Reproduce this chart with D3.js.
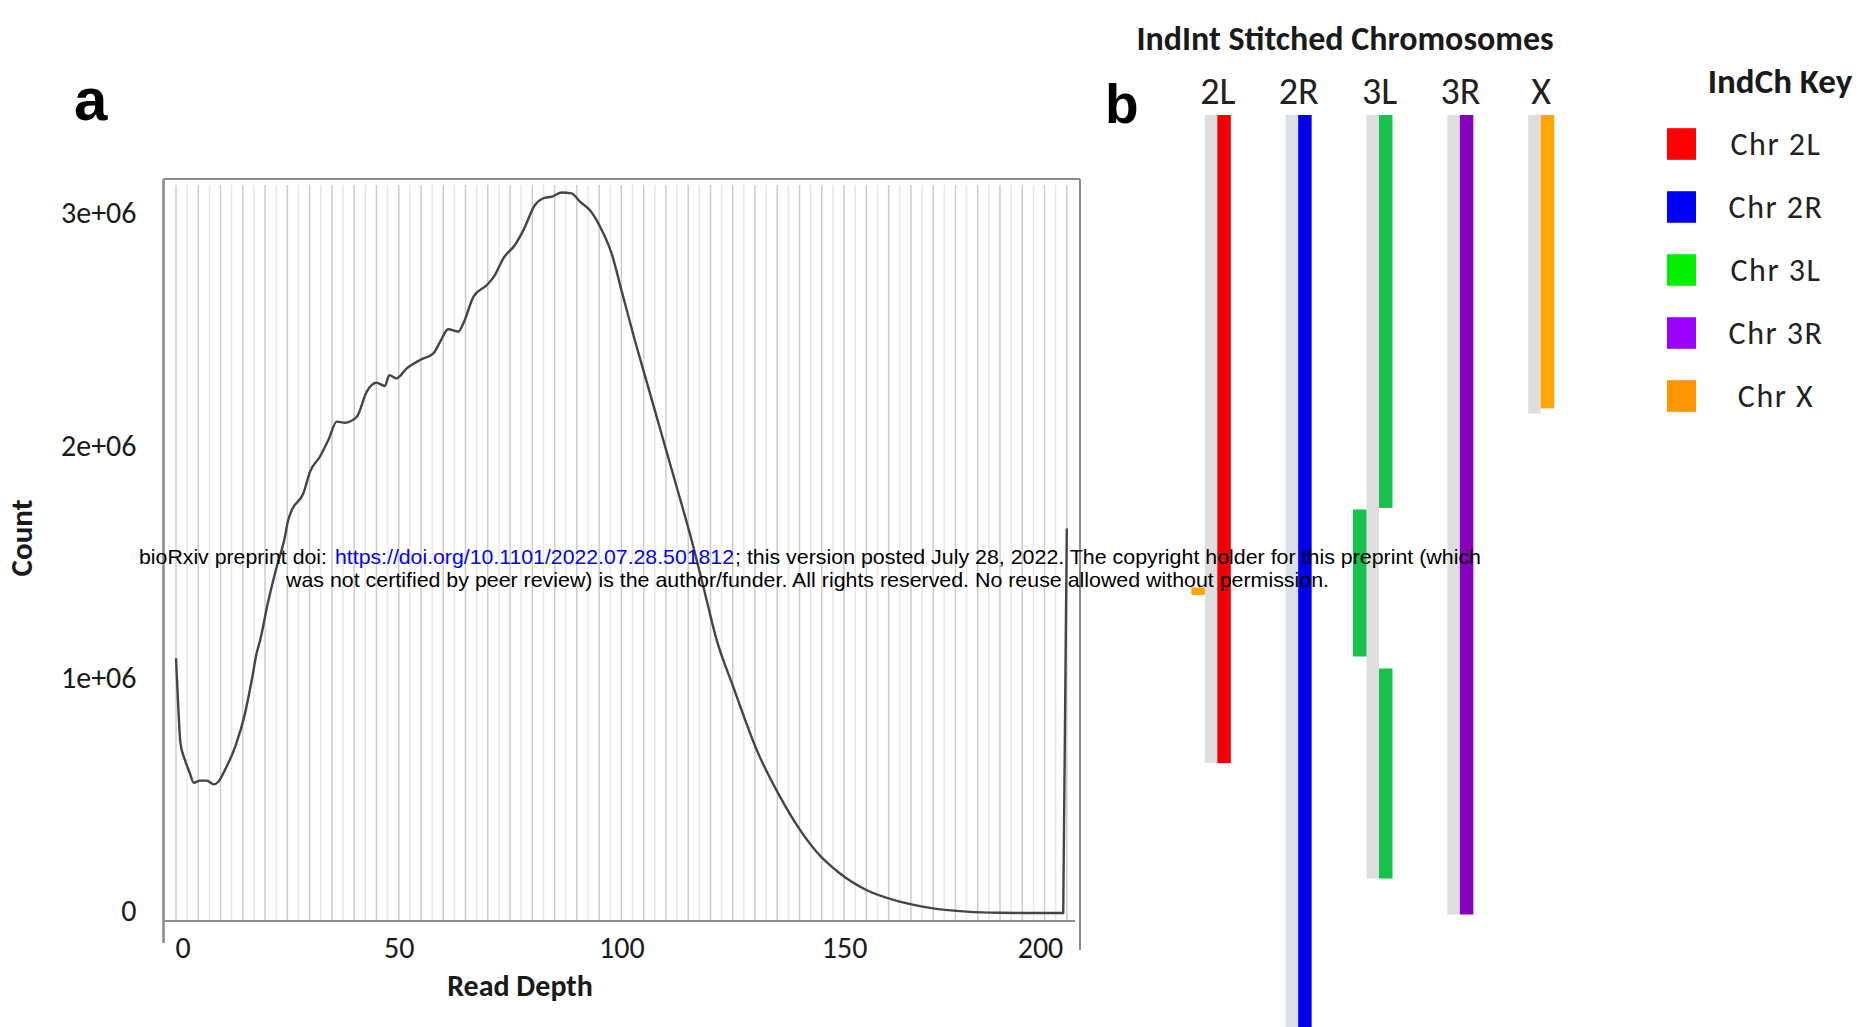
<!DOCTYPE html>
<html><head><meta charset="utf-8">
<script src="https://cdn.jsdelivr.net/npm/d3@7"></script>
<style>
html,body{margin:0;padding:0;background:#fff;}
svg{display:block;}
</style></head><body>
<svg id="chart" width="1867" height="1027"></svg>
<script>
// ---------------- Panel a data ----------------
const readDepth = [0,0.5,1,2,3,4,5.4,6.9,8.5,9.5,11,13.3,15.5,17,18.1,18.9,20.6,22.5,24.3,25.2,26,28.6,30.1,32.3,34.2,36.1,37.9,40.6,42.8,45,46.9,47.9,49.5,51.8,54.8,57.8,59.3,61.1,63.4,64.5,66.8,69.8,71.6,73.5,76.1,78,80.6,82.5,84.4,86.6,88.8,90.7,92.9,95.2,97.8,100.2,103,105.8,109,112.2,115.8,118.5,121.4,125.1,130.4,135.6,140.1,143.8,149,155,162.5,170,177.5,185,192,199.2,200];
const siteCount = [1095000,890000,730000,658000,607000,560000,569000,569000,553000,564000,615000,715000,858000,1000000,1116000,1173000,1330000,1480000,1603000,1689000,1732000,1804000,1897000,1961000,2033000,2112000,2107000,2133000,2240000,2279000,2265000,2312000,2298000,2341000,2377000,2405000,2455000,2509000,2499000,2534000,2649000,2699000,2742000,2814000,2871000,2935000,3043000,3072000,3079000,3097000,3093000,3057000,3021000,2950000,2835000,2663000,2463000,2275000,2060000,1845000,1600000,1395000,1173000,973000,700000,500000,357000,263000,171000,99000,49000,20000,6000,1000,0,0,1653000];
const xTickValues = [0,50,100,150,200];
const yTickValues = [0,1000000,2000000,3000000];

// ---------------- Panel b data ----------------
const chromosomes = ["2L","2R","3L","3R","X"];
const chromColors = ["#f20000","#0000ee","#16c24b","#8800bb","#ffa500"];
const backboneEnd = [21.6,31,25.45,26.65,9.95];
const segHost   = ["2L","2R","3L","3L","3L","3R","X","2L"];
const segSource = ["2L","2R","3L","3L","3L","3R","X","X"];
const segStart  = [0,0,0,13.15,18.45,0,0,15.75];
const segEnd    = [21.6,30.4,13.1,18.05,25.45,26.65,9.78,16.0];
const segLane   = [0,0,0,-1,0,0,0,-1];
const keyLabels = ["Chr 2L","Chr 2R","Chr 3L","Chr 3R","Chr X"];
const keyColors = ["#ff0000","#0000f5","#00f000","#9900ff","#ff9500"];

const svg = d3.select("#chart");
const calib = "Carlito, Calibri, Lato, 'Open Sans', sans-serif";

// ================= Panel a =================
const x = d3.scaleLinear().domain([0,200]).range([176,1066.8]);
const y = d3.scaleLinear().domain([0,3000000]).range([913,215]);
const box = {left:163.5, right:1080, top:179, bottom:921};

// vertical grid
svg.append("g").selectAll("line")
  .data(d3.range(0,200.001,2.5))
  .join("line")
  .attr("x1",d=>x(d)).attr("x2",d=>x(d))
  .attr("y1",box.top+6).attr("y2",box.bottom)
  .attr("stroke",(d,i)=> i%2===0 ? "#cbcbcb" : "#e7e7e7")
  .attr("stroke-width",1.5);

// frame
const frame = svg.append("g").attr("stroke","#8c8c8c").attr("fill","none");
frame.append("line").attr("x1",box.left).attr("x2",box.right).attr("y1",box.top).attr("y2",box.top).attr("stroke-width",2.2);
frame.append("line").attr("x1",box.left).attr("x2",box.left).attr("y1",box.top).attr("y2",943).attr("stroke-width",2.6);
frame.append("line").attr("x1",box.right).attr("x2",box.right).attr("y1",box.top).attr("y2",950).attr("stroke-width",2);
frame.append("line").attr("x1",box.left).attr("x2",1075).attr("y1",box.bottom).attr("y2",box.bottom).attr("stroke-width",2);

// curve
const pts = readDepth.map((d,i)=>[d,siteCount[i]]);
svg.append("path").datum(pts)
  .attr("fill","none").attr("stroke","#454545").attr("stroke-width",2.4)
  .attr("stroke-linejoin","round")
  .attr("d", d3.line().x(d=>x(d[0])).y(d=>y(d[1])).curve(d3.curveMonotoneX));

// axes
const gx = svg.append("g").attr("transform",`translate(0,${box.bottom})`)
  .call(d3.axisBottom(x).tickValues(xTickValues).tickSize(0).tickFormat(d3.format("d")));
gx.select(".domain").remove();
gx.selectAll(".tick text").attr("y",26).attr("dy","0.35em")
  .style("font-family",calib).style("font-size","30px").attr("fill","#1a1a1a");
gx.selectAll(".tick text").filter(d=>d===0).attr("text-anchor","start").attr("dx",-1);
gx.selectAll(".tick text").filter(d=>d===200).attr("text-anchor","end").attr("dx",-4);

const gy = svg.append("g").attr("transform",`translate(${box.left},-2)`)
  .call(d3.axisLeft(y).tickValues(yTickValues).tickSize(0).tickPadding(27)
    .tickFormat(d=> d===0 ? "0" : (d/1e6)+"e+06"));
gy.select(".domain").remove();
gy.selectAll(".tick text").style("font-family",calib).style("font-size","30px").attr("fill","#1a1a1a");

svg.append("text").attr("x",520).attr("y",985).attr("dy","0.35em").attr("text-anchor","middle")
  .style("font-family",calib).style("font-size","30px").style("font-weight","bold").attr("fill","#1a1a1a")
  .text("Read Depth");
svg.append("text").attr("transform","translate(21,538) rotate(-90)").attr("dy","0.35em").attr("text-anchor","middle")
  .style("font-family",calib).style("font-size","31px").style("font-weight","bold").attr("fill","#1a1a1a")
  .text("Count");

svg.append("text").attr("x",74).attr("y",120)
  .style("font-family","'Liberation Sans', Arial, sans-serif").style("font-size","60px").style("font-weight","bold")
  .text("a");

// ================= Panel b =================
const xb = d3.scalePoint().domain(chromosomes).range([1217.3,1540.7]);
const yb = d3.scaleLinear().domain([0,31]).range([115,1045]);
const colorOf = d3.scaleOrdinal().domain(chromosomes).range(chromColors);
const laneW = 13.5, grayW = 12.5;

svg.append("g").selectAll("rect")
  .data(chromosomes)
  .join("rect")
  .attr("x",c=>xb(c)-grayW).attr("width",grayW)
  .attr("y",yb(0)).attr("height",(c,i)=>yb(backboneEnd[i])-yb(0))
  .attr("fill",c=> c==="2R" ? "#dde0e8" : "#dedede");

const segs = segHost.map((h,i)=>({host:h,src:segSource[i],s:segStart[i],e:segEnd[i],lane:segLane[i]}));
svg.append("g").selectAll("rect")
  .data(segs)
  .join("rect")
  .attr("x",d=> d.lane===0 ? xb(d.host) : xb(d.host)-grayW-laneW)
  .attr("width",laneW)
  .attr("y",d=>yb(d.s)).attr("height",d=>yb(d.e)-yb(d.s))
  .attr("fill",d=>colorOf(d.src));

svg.append("g").selectAll("text")
  .data(chromosomes)
  .join("text")
  .attr("x",c=>xb(c)+0.5).attr("y",104).attr("text-anchor","middle")
  .style("font-family",calib).style("font-size","38px").style("font-weight","300").attr("fill","#222")
  .text(c=>c);

svg.append("text").attr("x",1345).attr("y",38).attr("dy","0.35em").attr("text-anchor","middle")
  .style("font-family",calib).style("font-size","34px").style("font-weight","bold").attr("fill","#1a1a1a")
  .text("IndInt Stitched Chromosomes");

svg.append("text").attr("x",1105).attr("y",123)
  .style("font-family","'Liberation Sans', Arial, sans-serif").style("font-size","55px").style("font-weight","bold")
  .text("b");

// legend
const ky = d3.scalePoint().domain(keyLabels).range([144,396]);
svg.append("text").attr("x",1780).attr("y",81).attr("dy","0.35em").attr("text-anchor","middle")
  .style("font-family",calib).style("font-size","35px").style("font-weight","bold").attr("fill","#1a1a1a")
  .text("IndCh Key");
const kg = svg.append("g");
kg.selectAll("rect").data(keyLabels).join("rect")
  .attr("x",1667).attr("width",29).attr("y",k=>ky(k)-15.8).attr("height",31.6)
  .attr("fill",(k,i)=>keyColors[i]);
kg.selectAll("text").data(keyLabels).join("text")
  .attr("x",1776).attr("y",k=>ky(k)).attr("dy","0.35em").attr("text-anchor","middle")
  .style("font-family",calib).style("font-size","32px").style("font-weight","300").style("letter-spacing","1.5px").attr("fill","#222")
  .text(k=>k);

// ================= bioRxiv watermark =================
const wm = svg.append("g").style("font-family","'Liberation Sans', Arial, sans-serif").style("font-size","21px").attr("fill","#000");
wm.append("text").attr("x",139).attr("y",564).attr("textLength",188).attr("lengthAdjust","spacingAndGlyphs")
  .text("bioRxiv preprint doi:");
wm.append("text").attr("x",335).attr("y",564).attr("textLength",399).attr("lengthAdjust","spacingAndGlyphs")
  .attr("fill","#0000ff").text("https://doi.org/10.1101/2022.07.28.501812");
wm.append("text").attr("x",735).attr("y",564).attr("textLength",746).attr("lengthAdjust","spacingAndGlyphs")
  .text("; this version posted July 28, 2022. The copyright holder for this preprint (which");
wm.append("text").attr("x",286).attr("y",587).attr("textLength",1043).attr("lengthAdjust","spacingAndGlyphs")
  .text("was not certified by peer review) is the author/funder. All rights reserved. No reuse allowed without permission.");
</script>
</body></html>
